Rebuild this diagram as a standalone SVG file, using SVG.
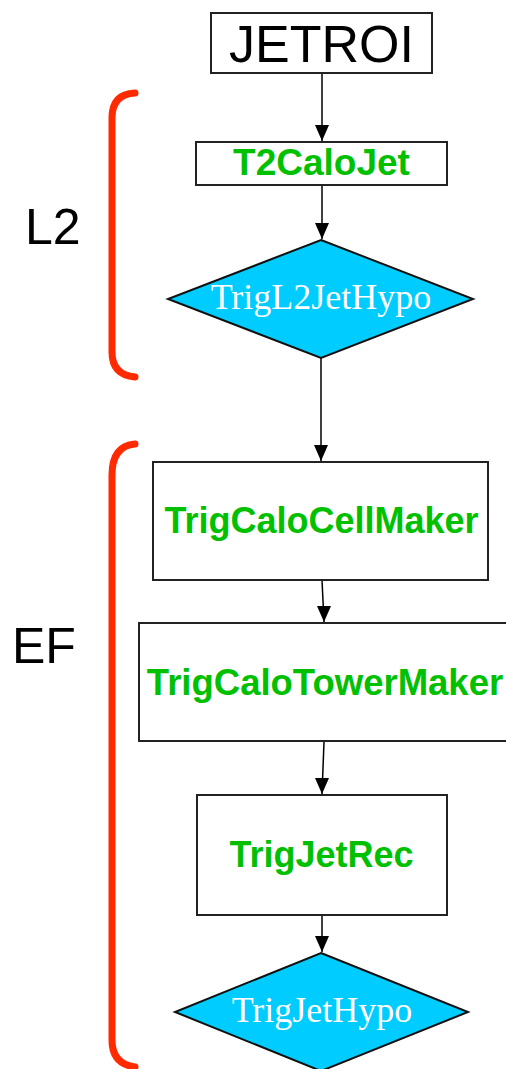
<svg xmlns="http://www.w3.org/2000/svg" width="506" height="1069" viewBox="0 0 506 1069">
<style>
.box{fill:#fff;stroke:#222;stroke-width:2}
.dia{fill:#00CCFF;stroke:#111;stroke-width:2}
.g{font-family:"Liberation Sans",Arial,sans-serif;font-weight:bold;font-size:36px;fill:#00C000;text-anchor:middle}
.w{font-family:"Liberation Serif","Times New Roman",serif;font-size:36px;fill:#fff;text-anchor:middle}
.lbl{font-family:"Liberation Sans",Arial,sans-serif;font-size:50px;fill:#000}
.br{fill:none;stroke:#FF2A00;stroke-width:7;stroke-linecap:round}
.c{stroke:#000;stroke-width:1.5;fill:none}
.ah{fill:#000}
</style>
<g id="brackets">
<path class="br" d="M135,93 Q112,94 112,118 L112,352 Q112,375 135,377"/>
<path class="br" d="M135,444 Q112,446 112,475 L112,1040 Q112,1064 135,1067"/>
</g>
<g id="labels">
<text class="lbl" x="25" y="244">L2</text>
<text class="lbl" x="12" y="663">EF</text>
</g>
<g id="connectors">
<line class="c" x1="322" y1="73" x2="322" y2="141"/>
<path class="ah" d="M315,125 L322,141 L329,125 Z"/>
<line class="c" x1="322" y1="185" x2="322" y2="239"/>
<path class="ah" d="M315,223 L322,239 L329,223 Z"/>
<line class="c" x1="321" y1="358" x2="321" y2="461"/>
<path class="ah" d="M314,445 L321,461 L328,445 Z"/>
<line class="c" x1="322" y1="580" x2="324" y2="622"/>
<path class="ah" d="M317,606 L324,622 L331,606 Z"/>
<line class="c" x1="324" y1="742" x2="322" y2="794"/>
<path class="ah" d="M315,778 L322,794 L329,778 Z"/>
<line class="c" x1="322" y1="915" x2="322" y2="952"/>
<path class="ah" d="M315,936 L322,952 L329,936 Z"/>
</g>
<g id="JETROI">
<rect class="box" x="211" y="13" width="221" height="60"/>
<text x="321.5" y="62" font-family="Liberation Sans,Arial,sans-serif" font-size="52" text-anchor="middle" fill="#000">JETROI</text>
</g>
<g id="T2CaloJet">
<rect class="box" x="196" y="142" width="251" height="43"/>
<text class="g" x="321.5" y="175" style="font-size:37px">T2CaloJet</text>
</g>
<g id="TrigL2JetHypo">
<polygon class="dia" points="321,240 473,299 321,358 168,299"/>
<text class="w" x="321" y="309">TrigL2JetHypo</text>
</g>
<g id="TrigCaloCellMaker">
<rect class="box" x="153" y="462" width="335" height="118"/>
<text class="g" x="321.5" y="533">TrigCaloCellMaker</text>
</g>
<g id="TrigCaloTowerMaker">
<rect class="box" x="139" y="623" width="380" height="118"/>
<text class="g" x="325" y="695" style="font-size:36.5px">TrigCaloTowerMaker</text>
</g>
<g id="TrigJetRec">
<rect class="box" x="197" y="795" width="250" height="120"/>
<text class="g" x="321.5" y="867">TrigJetRec</text>
</g>
<g id="TrigJetHypo">
<polygon class="dia" points="321,953 468,1012 321,1071 175,1012"/>
<text class="w" x="322" y="1022">TrigJetHypo</text>
</g>
</svg>
